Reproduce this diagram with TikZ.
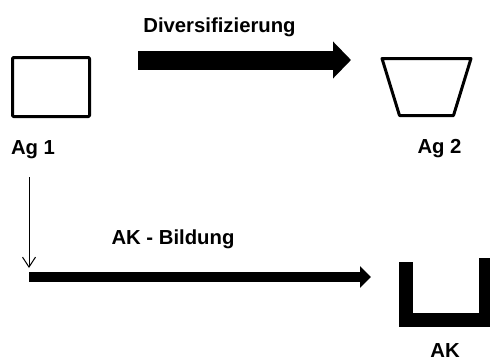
\documentclass[tikz,border=0pt]{standalone}
\usepackage{fontspec}
\setmainfont{Liberation Sans}
\usetikzlibrary{arrows.meta}
\begin{document}
\begin{tikzpicture}[x=1pt,y=-1pt,
  lbl/.style={font=\bfseries\fontsize{20.3}{24}\selectfont, inner sep=0pt, anchor=base},
  shapeline/.style={draw=black, line width=3pt, line join=round},
  bigarrow/.style={line width=19pt, line cap=butt, -{Triangle[length=18pt,width=36pt]}},
  midarrow/.style={line width=10pt, line cap=butt, -{Triangle[length=11pt,width=21pt]}},
  thinarrow/.style={line width=1pt, -{Straight Barb[length=10pt,width=13pt]}}]
\useasboundingbox (0,0) rectangle (490,362);
\clip (0,0) rectangle (490,362);
% Ag 1
\node (ag1) [shapeline, rounded corners=1pt, minimum width=77pt, minimum height=59pt, inner sep=0pt] at (51,87) {};
\node (ag1l) [lbl] at (33,154.5) {Ag 1};
% Ag 2 (trapezoid)
\draw[shapeline] (382,58.5) coordinate (ag2tl) -- (471,58.5) -- (453.5,115.5) -- (399.5,115.5) -- cycle;
\node (ag2l) [lbl] at (439.5,153.5) {Ag 2};
% AK (U shape)
\draw[line width=14pt, line join=miter, line cap=butt] (405.5,262) -- (405.5,320) -- (486,320) -- (486,258);
\node (akl) [lbl] at (445,357) {AK};
% arrows
\coordinate (d1) at (138,60);
\coordinate (d2) at (351,60);
\draw[bigarrow] (d1) -- (d2);
\node (div) [lbl] at (219.5,32.3) {Diversifizierung};
\coordinate (t1) at (29,177);
\coordinate (t2) at (29,268);
\draw[thinarrow] (t1) -- (t2);
\coordinate (b1) at (29,277);
\coordinate (b2) at (371,277);
\draw[midarrow] (b1) -- (b2);
\node (akb) [lbl] at (173,244) {AK - Bildung};
\end{tikzpicture}
\end{document}
